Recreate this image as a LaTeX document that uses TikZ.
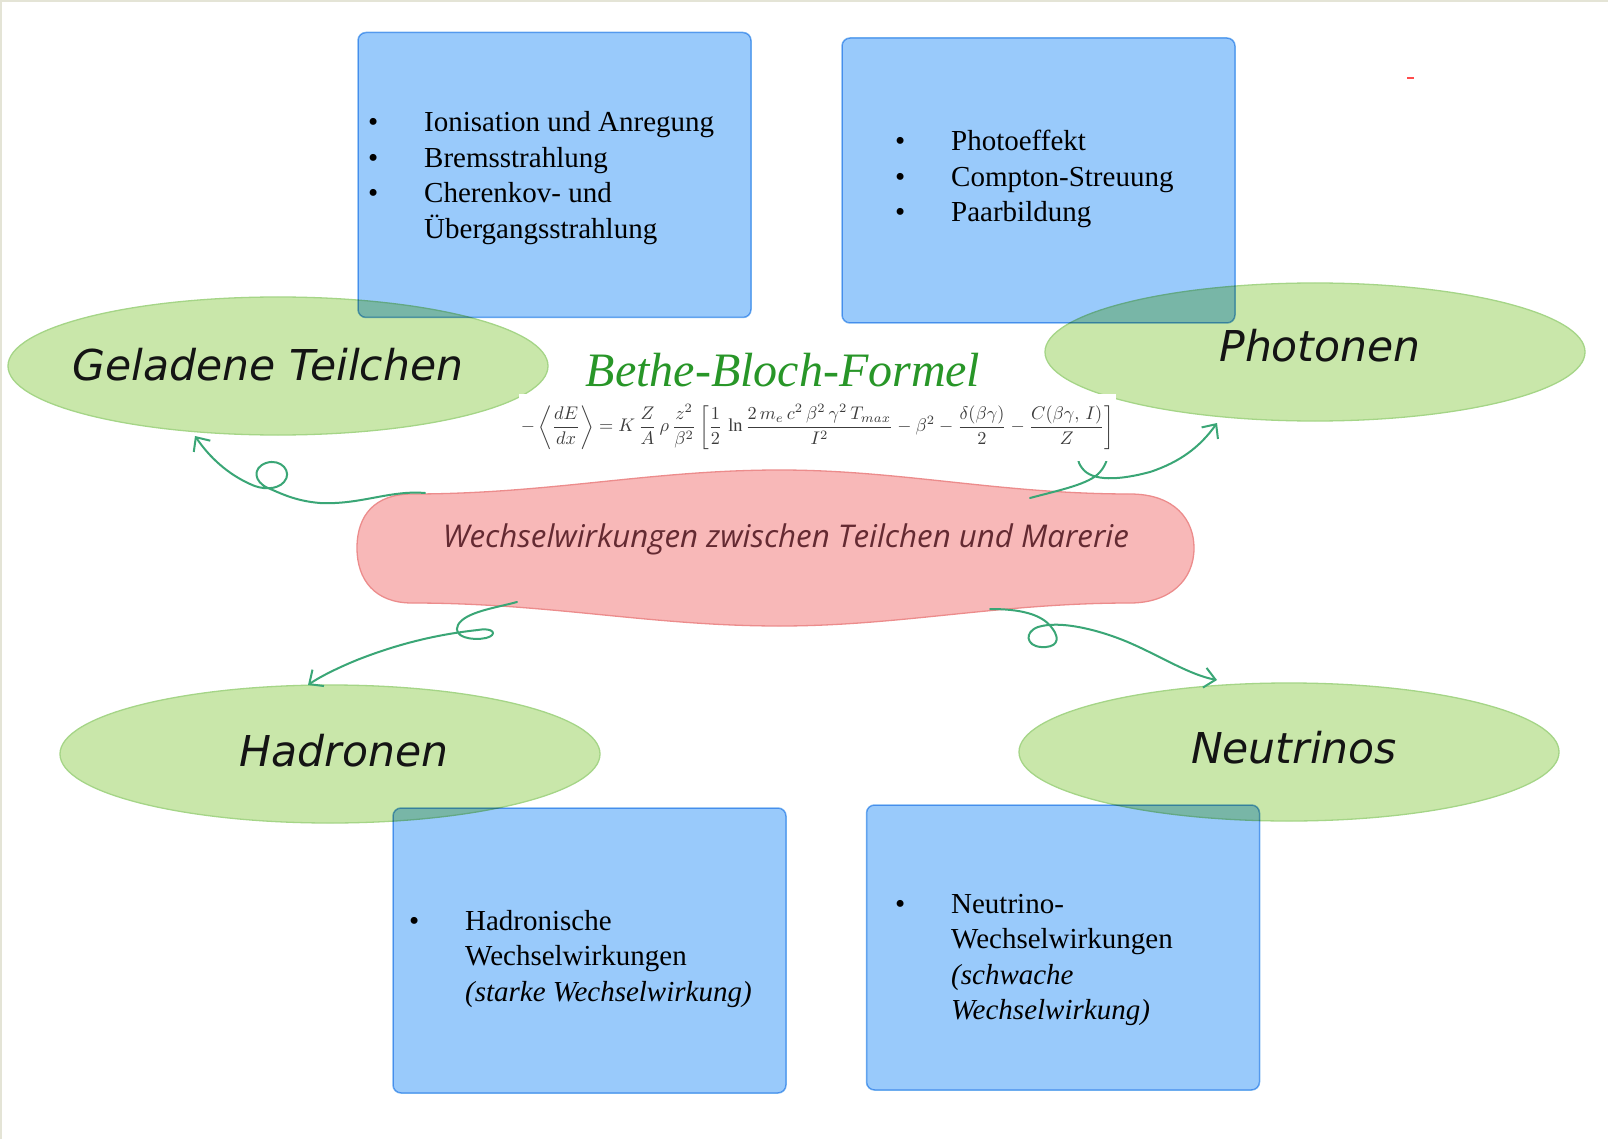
\documentclass[tikz,border=0pt]{standalone}
\usepackage{amsmath}
\usepackage{graphicx}
\usepackage{fontspec}
\setmainfont{Liberation Serif}
\newfontfamily\ellfont{DejaVu Sans}
\newfontfamily\blobfont{Open Sans}
\usetikzlibrary{shapes.geometric,arrows.meta}
\definecolor{ellfill}{RGB}{201,231,170}
\definecolor{elldraw}{RGB}{165,213,135}
\definecolor{boxfill}{RGB}{153,202,251}
\definecolor{boxdraw}{RGB}{115,178,240}
\definecolor{blobfill}{RGB}{248,184,184}
\definecolor{blobdraw}{RGB}{236,140,140}
\definecolor{arrowgreen}{RGB}{58,166,118}
\definecolor{titlegreen}{RGB}{40,150,40}
\definecolor{blobtext}{RGB}{100,42,50}
\definecolor{framecol}{RGB}{228,228,214}
\definecolor{formcol}{RGB}{60,60,60}
\tikzset{
  ell/.style={ellipse, fill=ellfill, draw=elldraw, line width=1.3pt,
    minimum width=540pt, minimum height=138pt, inner sep=0pt},
  elltext/.style={anchor=base, inner sep=0pt, font=\ellfont\itshape\fontsize{42.5}{50}\selectfont, text=black!92},
  bluebox/.style={rectangle, rounded corners=8pt, fill=boxfill, draw=boxdraw,
    line width=1.5pt, minimum width=393pt, minimum height=285pt, inner sep=0pt},
  list/.style={anchor=base west, inner sep=0pt, font=\fontsize{29}{35.5}\selectfont, text=black},
  curl/.style={draw=arrowgreen, line width=2pt, line cap=round, line join=round,
    -{Straight Barb[length=11pt,width=20pt,line width=2pt]}},
}
\begin{document}
\begin{tikzpicture}[x=1pt,y=-1pt]
\useasboundingbox (0,0) rectangle (1608,1139);
\fill[white] (0,0) rectangle (1608,1139);
\draw[framecol, line width=2pt] (1,1139) -- (1,1) -- (1608,1);

% ellipses
\node[ell] (ge) at (278,366) {};
\node[ell] (ph) at (1315,352) {};
\node[ell] (ha) at (330,754) {};
\node[ell] (ne) at (1289,752) {};
\node[elltext] (get) at (268,380) {Geladene Teilchen};
\node[elltext] (pht) at (1320,362) {Photonen};
\node[elltext] (hat) at (344,766) {Hadronen};
\node[elltext] (net) at (1294,763) {Neutrinos};

% blue boxes
\begin{scope}[blend mode=multiply]
\node[bluebox] (b1) at (554.5,175) {};
\node[bluebox] (b2) at (1038.5,180.5) {};
\node[bluebox] (b3) at (589.5,950.5) {};
\node[bluebox] (b4) at (1063,947.5) {};
\end{scope}

\node[list] (t1) at (368,132) {\begin{tabular}[t]{@{}p{56pt}@{}l@{}}
\textbullet & Ionisation und Anregung\\
\textbullet & Bremsstrahlung\\
\textbullet & Cherenkov- und\\
 & Übergangsstrahlung
\end{tabular}};
\node[list] (t2) at (895,151) {\begin{tabular}[t]{@{}p{56pt}@{}l@{}}
\textbullet & Photoeffekt\\
\textbullet & Compton-Streuung\\
\textbullet & Paarbildung
\end{tabular}};
\node[list] (t3) at (409,930) {\begin{tabular}[t]{@{}p{56pt}@{}l@{}}
\textbullet & Hadronische\\
 & Wechselwirkungen\\
 & \textit{(starke Wechselwirkung)}
\end{tabular}};
\node[list] (t4) at (895,913) {\begin{tabular}[t]{@{}p{56pt}@{}l@{}}
\textbullet & Neutrino-\\
 & Wechselwirkungen\\
 & \textit{(schwache}\\
 & \textit{Wechselwirkung)}
\end{tabular}};

% central blob
\path[fill=blobfill, draw=blobdraw, line width=1.3pt]
  (412,494) .. controls (550,494) and (650,470) .. (780,470)
  .. controls (900,470) and (1000,494) .. (1130,494)
  .. controls (1175,494) and (1194,520) .. (1194,548)
  .. controls (1194,580) and (1170,603) .. (1130,603)
  .. controls (1000,603) and (900,626) .. (780,626)
  .. controls (650,626) and (550,603) .. (412,603)
  .. controls (375,603) and (357,580) .. (357,548)
  .. controls (357,515) and (375,494) .. (412,494) -- cycle;
\node[anchor=base, inner sep=0pt, text=blobtext,
  font=\blobfont\itshape\fontsize{31.3}{36}\selectfont] (blob) at (786,547)
  {Wechselwirkungen zwischen Teilchen und Marerie};

% connector end points
\coordinate (sA) at (425,493);
\coordinate (eA) at (195,436);
\coordinate (sB) at (1030,498);
\coordinate (eB) at (1217,423);
\coordinate (sC) at (517,602);
\coordinate (eC) at (308,685);
\coordinate (sD) at (990,609);
\coordinate (eD) at (1217,680);

\draw[curl] (sA) .. controls (390,490) and (360,505) .. (320,503)
  .. controls (295,501) and (280,493) .. (268,488)
  .. controls (254,482) and (252,468) .. (266,463)
  .. controls (281,458) and (293,472) .. (284,482)
  .. controls (277,490) and (262,490) .. (250,484)
  .. controls (228,474) and (210,458) .. (eA);
\draw[curl] (sB) .. controls (1060,490) and (1090,484) .. (1100,472)
  .. controls (1112,458) and (1110,440) .. (1095,440)
  .. controls (1080,440) and (1072,455) .. (1082,468)
  .. controls (1092,482) and (1120,480) .. (1150,472)
  .. controls (1180,462) and (1200,447) .. (eB);
\draw[curl] (sC) .. controls (495,608) and (465,612) .. (458,625)
  .. controls (452,637) and (472,641) .. (486,638)
  .. controls (498,635) and (494,627) .. (478,630)
  .. controls (440,634) and (400,643) .. (357,660)
  .. controls (335,669) and (318,678) .. (eC);
\draw[curl] (sD) .. controls (1020,609) and (1042,614) .. (1052,628)
  .. controls (1062,641) and (1055,648) .. (1041,647)
  .. controls (1026,646) and (1024,632) .. (1038,627)
  .. controls (1060,620) and (1100,630) .. (1130,643)
  .. controls (1160,656) and (1190,675) .. (eD);

% formula with white background
\coordinate (fbg1) at (519,394);
\coordinate (fbg2) at (1116,461);
\fill[white] (fbg1) rectangle (fbg2);
\node[inner sep=0pt, text=formcol] (form) at (817.5,427)
 {\resizebox{593pt}{!}{$\displaystyle -\left\langle\frac{dE}{dx}\right\rangle = K\,\frac{Z}{A}\,\rho\,\frac{z^2}{\beta^2}\left[\frac{1}{2}\,\ln\frac{2\,m_e\,c^2\,\beta^2\,\gamma^2\,T_{max}}{I^2}-\beta^2-\frac{\delta(\beta\gamma)}{2}-\frac{C(\beta\gamma,\,I)}{Z}\right]$}};

\node[anchor=base, inner sep=0pt, text=titlegreen, font=\itshape\fontsize{48}{54}\selectfont] (title) at (783,386) {Bethe-Bloch-Formel};

% small red mark
\coordinate (rm1) at (1407,78);
\coordinate (rm2) at (1414,78);
\draw[red!70, line width=1.5pt] (rm1) -- (rm2);
\end{tikzpicture}
\end{document}
